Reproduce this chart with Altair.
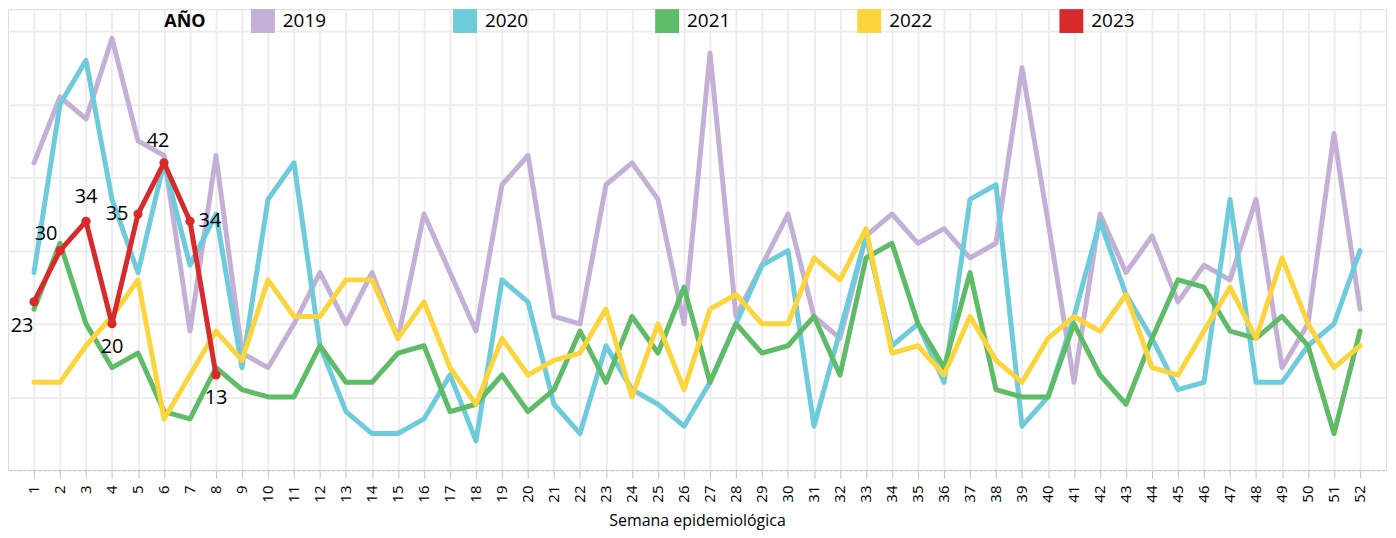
import altair as alt
import pandas as pd

weeks = list(range(1, 53))
years = ["2019", "2020", "2021", "2022", "2023"]

y2019 = [42, 51, 48, 59, 45, 43, 19, 43, 16, 14, 20, 27, 20, 27, 18, 35, 27, 19, 39, 43,
         21, 20, 39, 42, 37, 20, 57, 21, 28, 35, 21, 18, 32, 35, 31, 33, 29, 31, 55, 34,
         12, 35, 27, 32, 23, 28, 26, 37, 14, 20, 46, 22]
y2020 = [27, 50, 56, 37, 27, 42, 28, 35, 14, 37, 42, 17, 8, 5, 5, 7, 13, 4, 26, 23,
         9, 5, 17, 11, 9, 6, 12, 20, 28, 30, 6, 19, 32, 17, 20, 12, 37, 39, 6, 10,
         21, 34, 24, 18, 11, 12, 37, 12, 12, 17, 20, 30]
y2021 = [22, 31, 20, 14, 16, 8, 7, 14, 11, 10, 10, 17, 12, 12, 16, 17, 8, 9, 13, 8,
         11, 19, 12, 21, 16, 25, 12, 20, 16, 17, 21, 13, 29, 31, 20, 14, 27, 11, 10, 10,
         20, 13, 9, 18, 26, 25, 19, 18, 21, 17, 5, 19]
y2022 = [12, 12, 17, 21, 26, 7, 13, 19, 15, 26, 21, 21, 26, 26, 18, 23, 14, 9, 18, 13,
         15, 16, 22, 10, 20, 11, 22, 24, 20, 20, 29, 26, 33, 16, 17, 13, 21, 15, 12, 18,
         21, 19, 24, 14, 13, 19, 25, 18, 29, 20, 14, 17]
y2023 = [23, 30, 34, 20, 35, 42, 34, 13]
label_pos_2023 = ["bl", "tl", "t", "b", "l", "tl2", "r", "b"]

colors = ["#C4B0D6", "#6DCBDB", "#5EBB66", "#FCD43C", "#D82A2B"]

series = {"2019": y2019, "2020": y2020, "2021": y2021, "2022": y2022, "2023": y2023}
rows = []
for yr in years:
    vals = series[yr]
    for i, v in enumerate(vals):
        rows.append({"semana": weeks[i], "casos": v, "anio": yr})
df = pd.DataFrame(rows)

df23 = pd.DataFrame({"semana": weeks[:len(y2023)], "casos": y2023, "pos": label_pos_2023})

FONT = "Open Sans"

x_axis = alt.Axis(
    values=weeks,
    labelExpr="'' + datum.value",
    labelOverlap=False,
    labelAngle=270,
    labelFontSize=15,
    labelFont=FONT,
    labelColor="#000000",
    labelPadding=7,
    tickColor="#BFBFBF",
    tickSize=8,
    tickWidth=1,
    domainColor="#BFBFBF",
    domainDash=[3, 2],
    domainWidth=1,
    grid=True,
    gridColor="#EDEDED",
    gridWidth=2,
    title="Semana epidemiológica",
    titleFont=FONT,
    titleFontSize=16,
    titleFontWeight="normal",
    titleColor="#000000",
    titlePadding=10,
)
y_axis = alt.Axis(
    values=[10, 20, 30, 40, 50, 60],
    labels=False,
    ticks=False,
    domain=False,
    grid=True,
    gridColor="#EDEDED",
    gridWidth=2,
    title=None,
    minExtent=0,
)
x_scale = alt.Scale(domain=[0, 53], nice=False, zero=False)
y_scale = alt.Scale(domain=[0, 63], nice=False)


def xe():
    return alt.X("semana:Q", scale=x_scale, axis=x_axis)


def ye():
    return alt.Y("casos:Q", scale=y_scale, axis=y_axis)


color_scale = alt.Scale(domain=years, range=colors)

lines = alt.Chart(df).mark_line(strokeWidth=5, strokeCap="round", strokeJoin="round").encode(
    x=xe(),
    y=ye(),
    color=alt.Color(
        "anio:N",
        scale=color_scale,
        legend=alt.Legend(
            title=["", "AÑO"],
            orient="none",
            legendX=157,
            legendY=0,
            direction="horizontal",
            titleOrient="left",
            titleAnchor="start",
            titleLineHeight=4,
            titleFont=FONT,
            titleFontSize=18,
            titleFontWeight="bold",
            titleColor="#000000",
            titlePadding=45,
            labelFont=FONT,
            labelFontSize=19,
            labelColor="#000000",
            labelOffset=8,
            symbolType="square",
            symbolSize=144,
            symbolStrokeWidth=12,
            columnPadding=109,
        ),
    ),
)

points = alt.Chart(df23).mark_point(filled=True, size=85, opacity=1, color=colors[-1]).encode(
    x=xe(),
    y=ye(),
)

offsets = {
    "bl": (-12, 24),
    "tl": (-14, -17),
    "t": (0, -24),
    "b": (0, 23),
    "l": (-21, 0),
    "tl2": (-6, -22),
    "r": (20, 0),
}
label_layers = []
for p, (ddx, ddy) in offsets.items():
    label_layers.append(
        alt.Chart(df23)
        .transform_filter(alt.datum.pos == p)
        .mark_text(font=FONT, fontSize=20, color="#000000", dx=ddx, dy=ddy,
                   align="center", baseline="middle")
        .encode(x=xe(), y=ye(), text=alt.Text("casos:Q"))
    )

chart = alt.layer(lines, points, *label_layers).properties(
    width=1386,
    height=522,
    autosize=alt.AutoSizeParams(type="fit", contains="padding"),
    padding={"left": 0, "top": 0, "right": 2, "bottom": 0},
).configure_view(
    stroke="#D9D9D9", strokeWidth=1
).configure_axisX(
    labelOverlap=False, labelSeparation=0, labelBound=False
).configure(background="white")

chart.save("out.html", embed_options={"renderer": "svg", "actions": False})
